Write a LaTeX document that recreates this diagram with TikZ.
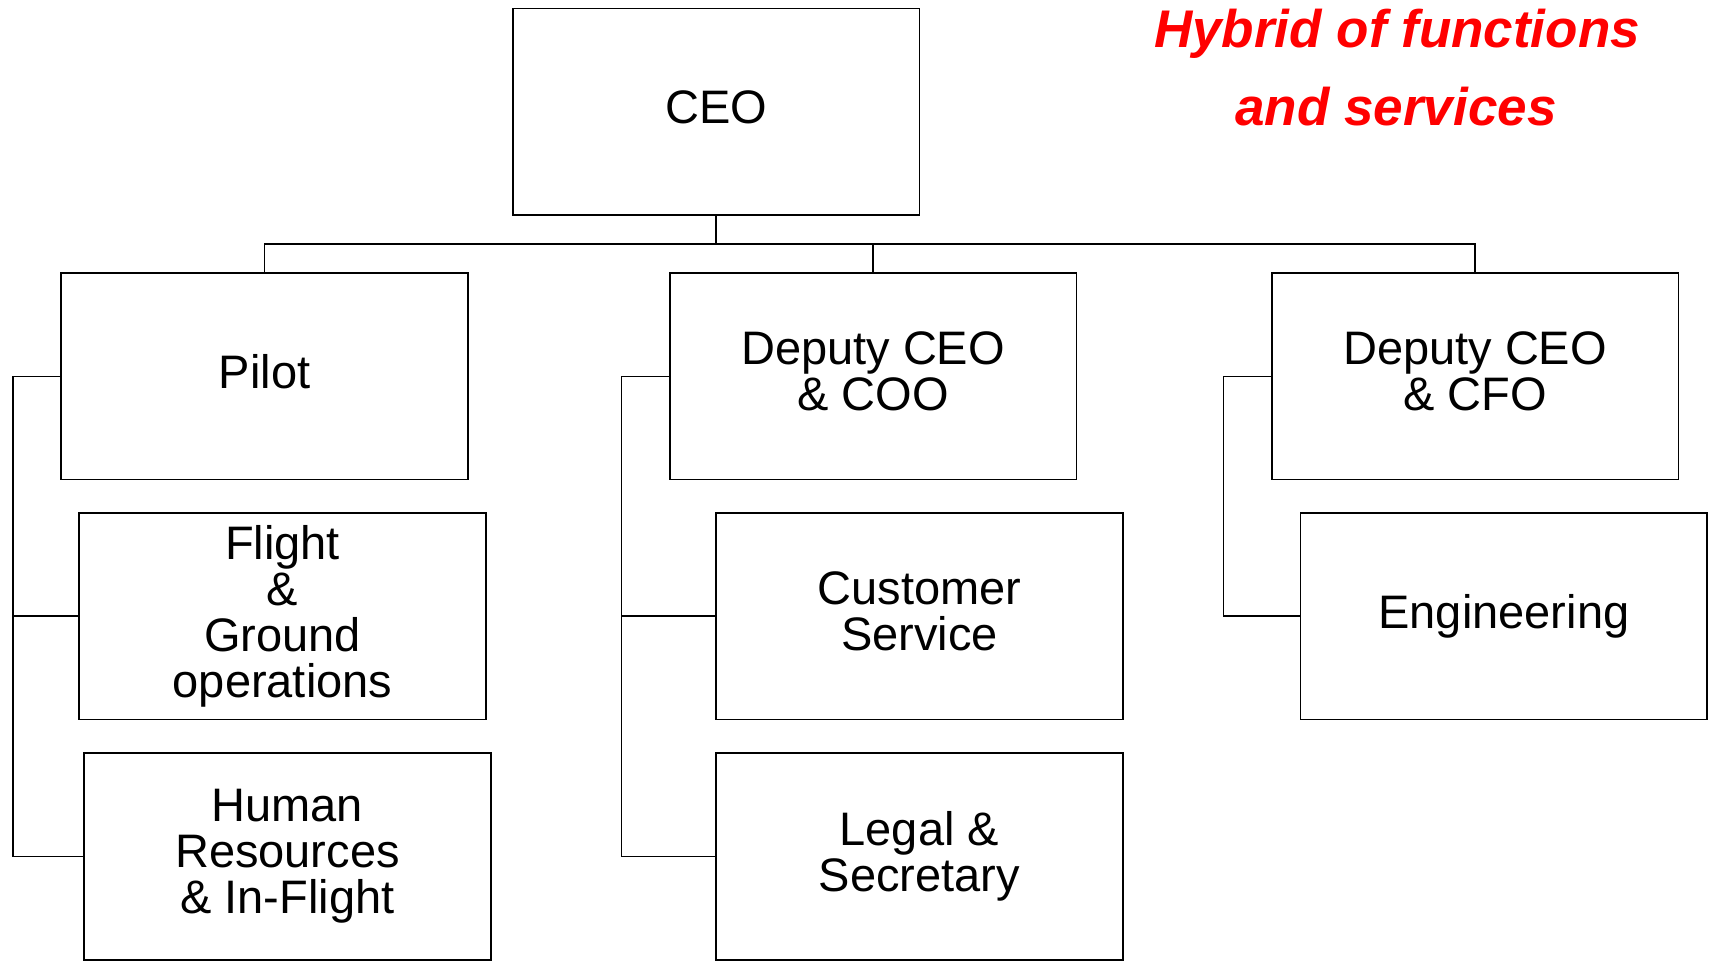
\documentclass[tikz,border=0pt]{standalone}
\usepackage{fontspec}
\setmainfont{Liberation Sans}
\begin{document}
\begin{tikzpicture}[x=1pt,y=-1pt,
  orgbox/.style={draw=black,line width=1.8pt,fill=white,rectangle,
    minimum width=406.8pt,minimum height=206.5pt,inner sep=0pt,align=center,
    text depth=10pt,
    font=\fontsize{47}{46}\selectfont},
  link/.style={draw=black,line width=1.5pt},
  title/.style={text=red,anchor=base,inner sep=0pt,
    font=\fontsize{53}{60}\selectfont\bfseries\itshape}]
\useasboundingbox (0,0) rectangle (1710,963);
% boxes
\node[orgbox] (ceo) at (716,111.75) {CEO};
\node[orgbox] (pilot) at (264.5,376.3) {Pilot};
\node[orgbox] (coo) at (873,376.3) {Deputy CEO\\\& COO};
\node[orgbox] (cfo) at (1475,376.3) {Deputy CEO\\\& CFO};
\node[orgbox] (flight) at (282.5,616.2) {Flight\\\&\\Ground\\operations};
\node[orgbox] (hr) at (287.4,856.6) {Human\\Resources\\\& In-Flight};
\node[orgbox] (cust) at (919.4,616.2) {Customer\\Service};
\node[orgbox] (legal) at (919.4,856.6) {Legal \&\\Secretary};
\node[orgbox] (eng) at (1503.9,616.2) {Engineering};
% title
\node[title] (t1) at (1397,48) {Hybrid of functions};
\node[title] (t2) at (1396,126) {and services};
% bus
\coordinate (bus) at (0,244);
\coordinate (ls) at (13,0);
\coordinate (ms) at (621.6,0);
\coordinate (rs) at (1223.6,0);
\draw[link] (ceo.south) -- (ceo.south |- bus);
\draw[link] (pilot.north) -- (pilot.north |- bus) -- (cfo.north |- bus) -- (cfo.north);
\draw[link] (coo.north |- bus) -- (coo.north);
% left spine
\draw[link] (pilot.west) -- (pilot.west -| ls) -- (hr.west -| ls) -- (hr.west);
\draw[link] (flight.west -| ls) -- (flight.west);
% middle spine
\draw[link] (coo.west) -- (coo.west -| ms) -- (legal.west -| ms) -- (legal.west);
\draw[link] (cust.west -| ms) -- (cust.west);
% right spine
\draw[link] (cfo.west) -- (cfo.west -| rs) -- (eng.west -| rs) -- (eng.west);
\end{tikzpicture}
\end{document}
